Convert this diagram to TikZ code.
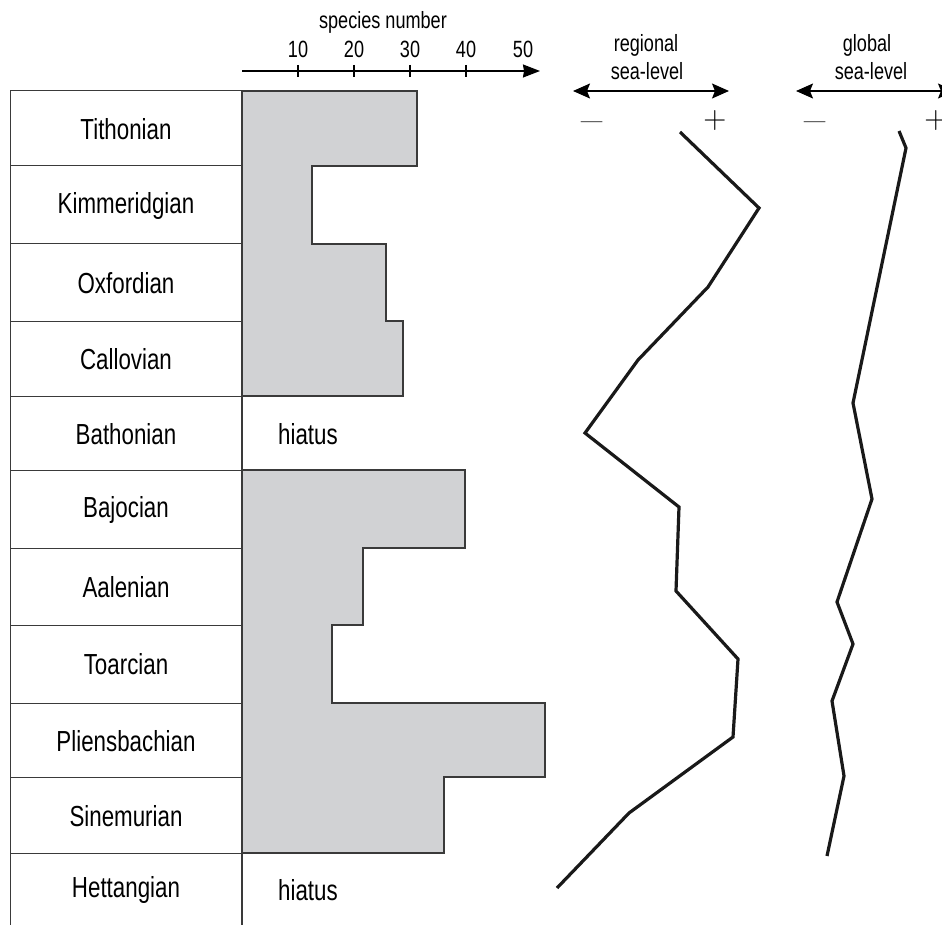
\documentclass[tikz,border=0pt]{standalone}
\usepackage{fontspec}
\setmainfont{Liberation Sans}[FakeStretch=0.77]
\newfontfamily\signfont{Latin Modern Roman}
\usetikzlibrary{arrows.meta}
\definecolor{barfill}{HTML}{D1D2D4}
\definecolor{rule}{HTML}{3A3A3A}
\begin{document}
\begin{tikzpicture}[x=1pt,y=-1pt,
  tablerule/.style={draw=rule,line width=1pt},
  barline/.style={draw=rule,line width=1.3pt,fill=barfill},
  stagelabel/.style={font=\fontsize{29}{31}\selectfont,anchor=center,inner sep=0pt},
  hiatuslabel/.style={font=\fontsize{29}{31}\selectfont,anchor=center,inner sep=0pt},
  smalllabel/.style={font=\fontsize{23.5}{26}\selectfont,anchor=base,inner sep=0pt},
  minuslabel/.style={font=\signfont\fontsize{46}{46}\selectfont,anchor=center,inner sep=0pt},
  pluslabel/.style={font=\signfont\fontsize{32}{32}\selectfont,anchor=center,inner sep=0pt},
  curve/.style={line width=3.2pt,line join=miter,black!90},
  dblarrow/.style={line width=1.3pt,{Stealth[length=17pt,width=15pt,inset=3pt]}-{Stealth[length=17pt,width=15pt,inset=3pt]}},
  axisarrow/.style={line width=1.3pt,-{Stealth[length=17pt,width=13pt,inset=1pt]}}
]
\useasboundingbox (0,0) rectangle (942,925);
\fill[white] (0,0) rectangle (942,925);

% histogram bars
\draw[barline] (242,91) -- (417,91) -- (417,166) -- (312,166) -- (312,244) -- (386,244) -- (386,321) -- (403,321) -- (403,396) -- (242,396);
\draw[barline] (242,470) -- (465,470) -- (465,548) -- (363,548) -- (363,625) -- (332,625) -- (332,703) -- (545,703) -- (545,777) -- (444,777) -- (444,853) -- (242,853);

% table
\draw[tablerule] (10,925) -- (10,91) -- (242,91);
\foreach \yy in {166,244,321,396,470,548,625,703,777,853}
  \draw[tablerule] (10,\yy) -- (242,\yy);
\draw[draw=rule,line width=1.4pt] (242,91) -- (242,925);

% stage names
\node[stagelabel] (r1) at (126,129) {Tithonian};
\node[stagelabel] (r2) at (126,206) {Kimmeridgian};
\node[stagelabel] (r3) at (126,283) {Oxfordian};
\node[stagelabel] (r4) at (126,359) {Callovian};
\node[stagelabel] (r5) at (126,434) {Bathonian};
\node[stagelabel] (r6) at (126,510) {Bajocian};
\node[stagelabel] (r7) at (126,587) {Aalenian};
\node[stagelabel] (r8) at (126,664) {Toarcian};
\node[stagelabel] (r9) at (126,741) {Pliensbachian};
\node[stagelabel] (r10) at (126,816) {Sinemurian};
\node[stagelabel] (r11) at (126,890) {Hettangian};
\node[hiatuslabel] (h1) at (308,434) {hiatus};
\node[hiatuslabel] (h2) at (308,890) {hiatus};

% species axis
\coordinate (ax0) at (242,71);
\coordinate (ax1) at (540,71);
\draw[axisarrow] (ax0) -- (ax1);
\foreach \xx in {298,354,410,466}
  \draw[line width=1.1pt] (\xx,65) -- (\xx,77);
\node[smalllabel] (t10) at (298,58) {10};
\node[smalllabel] (t20) at (354,58) {20};
\node[smalllabel] (t30) at (410,58) {30};
\node[smalllabel] (t40) at (466,58) {40};
\node[smalllabel] (t50) at (523,58) {50};
\node[smalllabel] (spn) at (383,29) {species number};

% regional sea-level
\node[smalllabel] (rg1) at (646,52) {regional};
\node[smalllabel] (rg2) at (647,80) {sea-level};
\coordinate (ra) at (573,91);
\coordinate (rb) at (729,91);
\draw[dblarrow] (ra) -- (rb);
\node[minuslabel] (rminus) at (592,128) {–};
\node[pluslabel] (rplus) at (715,121) {+};
\draw[curve] (680,132) -- (759,208) -- (708,287) -- (638,360) -- (585,433) -- (679,507) -- (676,591) -- (738,659) -- (733,737) -- (629,813) -- (557,888);

% global sea-level
\node[smalllabel] (gl1) at (867,52) {global};
\node[smalllabel] (gl2) at (871,80) {sea-level};
\coordinate (ga) at (796,91);
\coordinate (gb) at (955,91);
\draw[dblarrow] (ga) -- (gb);
\node[minuslabel] (gminus) at (815,128) {–};
\node[pluslabel] (gplus) at (936,121) {+};
\draw[curve] (899,131) -- (906,148) -- (853,403) -- (872,499) -- (837,602) -- (853,644) -- (832,701) -- (844,776) -- (827,856);
\end{tikzpicture}
\end{document}
